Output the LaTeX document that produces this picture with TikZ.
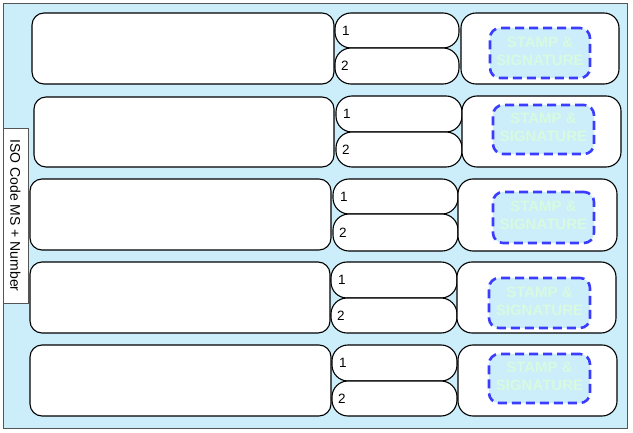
\documentclass[tikz,border=0pt]{standalone}
\usepackage{fontspec}
\setmainfont{Liberation Sans}
\definecolor{bgblue}{RGB}{204,238,250}
\definecolor{stampblue}{RGB}{60,60,255}
\definecolor{stamptext}{RGB}{215,250,225}
\definecolor{framegray}{RGB}{85,85,85}
\begin{document}
\begin{tikzpicture}[x=1pt,y=-1pt,
  cell/.style={draw=black,line width=1.1pt,fill=white,rectangle,inner sep=0pt,outer sep=0pt},
  bigbox/.style={cell,rounded corners=12pt},
  slot/.style={cell,rounded corners=16pt},
  stampbox/.style={cell,rounded corners=15pt},
  stampmark/.style={draw=stampblue,fill=bgblue,line width=2.6pt,dash pattern=on 9pt off 5pt,rounded corners=10pt,rectangle,inner sep=0pt},
  stamplabel/.style={text=stamptext,font=\bfseries\fontsize{15}{18}\selectfont,align=center,inner sep=0pt},
  numlabel/.style={anchor=west,inner sep=0pt,font=\fontsize{13.5}{16}\selectfont},
  isobox/.style={draw=framegray,line width=0.8pt,fill=white,rectangle,inner sep=0pt,minimum width=25pt,minimum height=175pt}]
\useasboundingbox (0,0) rectangle (633,433);
\fill[white] (0,0) rectangle (633,433);
\draw[draw=framegray,fill=bgblue,line width=1.6pt] (3.5,3.5) rectangle (627.5,428.5);
% row 1
\node[bigbox,minimum width=302pt,minimum height=71pt] (b1) at (183,48.5) {};
\node[slot,minimum width=124pt,minimum height=35pt] (s1a) at (397,30.5) {};
\node[slot,minimum width=124pt,minimum height=36pt] (s1b) at (397,66) {};
\node[stampbox,minimum width=158pt,minimum height=71pt] (t1) at (540,48.5) {};
\node[stampmark,minimum width=100pt,minimum height=50pt] (m1) at (540,53) {};
% row 2
\node[bigbox,minimum width=300pt,minimum height=70pt] (b2) at (184,132) {};
\node[slot,minimum width=126pt,minimum height=36pt] (s2a) at (399,114) {};
\node[slot,minimum width=126pt,minimum height=35pt] (s2b) at (399,149.5) {};
\node[stampbox,minimum width=159pt,minimum height=71pt] (t2) at (541.5,131.5) {};
\node[stampmark,minimum width=101pt,minimum height=49pt] (m2) at (543.5,129.5) {};
% row 3
\node[bigbox,minimum width=301pt,minimum height=71pt] (b3) at (180.5,214.5) {};
\node[slot,minimum width=125pt,minimum height=35pt] (s3a) at (395.5,196.5) {};
\node[slot,minimum width=125pt,minimum height=37pt] (s3b) at (395.5,232.5) {};
\node[stampbox,minimum width=159pt,minimum height=72pt] (t3) at (537.5,215) {};
\node[stampmark,minimum width=101pt,minimum height=51pt] (m3) at (543.5,217.5) {};
% row 4
\node[bigbox,minimum width=300pt,minimum height=71pt] (b4) at (180,297.5) {};
\node[slot,minimum width=126pt,minimum height=36pt] (s4a) at (394,280) {};
\node[slot,minimum width=126pt,minimum height=35pt] (s4b) at (394,315.5) {};
\node[stampbox,minimum width=159pt,minimum height=71pt] (t4) at (536.5,297.5) {};
\node[stampmark,minimum width=101pt,minimum height=50pt] (m4) at (539.5,303) {};
% row 5
\node[bigbox,minimum width=301pt,minimum height=71pt] (b5) at (180.5,380.5) {};
\node[slot,minimum width=125pt,minimum height=36pt] (s5a) at (394.5,363) {};
\node[slot,minimum width=125pt,minimum height=35pt] (s5b) at (394.5,398.5) {};
\node[stampbox,minimum width=159pt,minimum height=71pt] (t5) at (537.5,380.5) {};
\node[stampmark,minimum width=101pt,minimum height=49pt] (m5) at (539.5,378.5) {};
% stamp texts and number labels
\foreach \r in {1,...,5}{
  \node[stamplabel] (l\r) at ([yshift=2pt]m\r.center) {STAMP \&\\SIGNATURE};
  \node[numlabel] (n\r a) at ([xshift=7pt]s\r a.west) {1};
  \node[numlabel] (n\r b) at ([xshift=6pt]s\r b.west) {2};
}
% ISO label
\node[isobox] (iso) at (15.5,215.5) {};
\node[rotate=-90,inner sep=0pt,font=\fontsize{14}{16}\selectfont] (isotext) at (iso.center) {ISO Code MS + Number};
\end{tikzpicture}
\end{document}
